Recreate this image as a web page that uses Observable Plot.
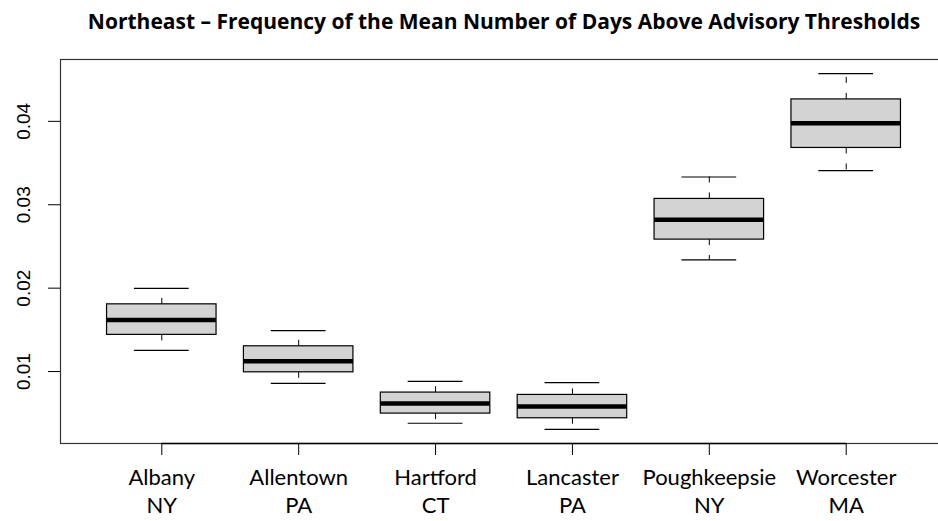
<!DOCTYPE html>
<html><head><meta charset="utf-8">
<script src="https://cdn.jsdelivr.net/npm/d3@7"></script>
<script src="https://cdn.jsdelivr.net/npm/@observablehq/plot@0.6"></script>
<style>body{margin:0;background:#fff;overflow:hidden} #chart svg{overflow:hidden}</style>
</head><body><div id="chart"></div>
<script>
const title = "Northeast \u2013 Frequency of the Mean Number of Days Above Advisory Thresholds";
const cities = ["Albany", "Allentown", "Hartford", "Lancaster", "Poughkeepsie", "Worcester"];
const states = ["NY", "PA", "CT", "PA", "NY", "MA"];
const whiskerLow  = [0.01255, 0.00859, 0.00380, 0.00308, 0.02338, 0.03409];
const q1          = [0.01440, 0.00991, 0.00496, 0.00440, 0.02582, 0.03681];
const median      = [0.01619, 0.01123, 0.00616, 0.00580, 0.02821, 0.03976];
const q3          = [0.01806, 0.01303, 0.00748, 0.00720, 0.03070, 0.04263];
const whiskerHigh = [0.01998, 0.01491, 0.00883, 0.00868, 0.03333, 0.04571];
const yTicks = [0.01, 0.02, 0.03, 0.04];
const yTickLabels = ["0.01", "0.02", "0.03", "0.04"];

const n = cities.length;
const rows = cities.map((c, k) => ({i: k + 1, label: c + "\n" + states[k], lo: whiskerLow[k], q1: q1[k], med: median[k], q3: q3[k], hi: whiskerHigh[k]}));
const lo = d3.min(whiskerLow), hi = d3.max(whiskerHigh), pad = (hi - lo) * 0.04;
const yMin = lo - pad;
const xIdx = d3.range(1, n + 1);

const chart = Plot.plot({
  width: 938, height: 521,
  marginLeft: 60, marginTop: 59, marginBottom: 78, marginRight: -9,
  style: {background: "white", fontFamily: "Lato, sans-serif"},
  x: {domain: [0.5 - 0.04 * n, n + 0.5 + 0.04 * n], label: null},
  y: {domain: [yMin, hi + pad], label: null},
  marks: [
    Plot.ruleX(rows, {x: "i", y1: "q3", y2: "hi", stroke: "black", strokeWidth: 1, strokeDasharray: "6,10"}),
    Plot.ruleX(rows, {x: "i", y1: "q1", y2: "lo", stroke: "black", strokeWidth: 1, strokeDasharray: "6,10"}),
    Plot.ruleY(rows, {y: "hi", x1: d => d.i - 0.2, x2: d => d.i + 0.2, stroke: "black", strokeWidth: 1.2}),
    Plot.ruleY(rows, {y: "lo", x1: d => d.i - 0.2, x2: d => d.i + 0.2, stroke: "black", strokeWidth: 1.2}),
    Plot.rect(rows, {x1: d => d.i - 0.4, x2: d => d.i + 0.4, y1: "q1", y2: "q3", fill: "#d3d3d3", stroke: "black", strokeWidth: 1.2}),
    Plot.ruleY(rows, {y: "med", x1: d => d.i - 0.4, x2: d => d.i + 0.4, stroke: "black", strokeWidth: 4.5}),
    Plot.frame({stroke: "#333", strokeWidth: 1.2}),
    Plot.ruleY([yMin], {x1: 1, x2: n, stroke: "black", strokeWidth: 1.5}),
    Plot.axisX({ticks: xIdx, tickSize: 12, tickFormat: () => "", stroke: "black"}),
    Plot.text(rows, {x: "i", text: "label", frameAnchor: "bottom", lineAnchor: "top", dy: 22, lineHeight: 1.27, fontSize: 22, fill: "black"}),
    Plot.axisY({ticks: yTicks, tickSize: 12, tickFormat: () => "", stroke: "black"}),
    Plot.text(yTicks, {y: d => d, text: (d, k) => yTickLabels[k], frameAnchor: "left", dx: -37, rotate: -90, textAnchor: "middle", lineAnchor: "middle", fontSize: 19, fontFamily: "Liberation Sans, Arial, sans-serif", fill: "black"}),
    Plot.text([title], {frameAnchor: "top", dy: -37, lineAnchor: "middle", fontSize: 21, fontWeight: "bold", fontFamily: "'Open Sans', sans-serif", fill: "black"})
  ]
});
document.getElementById("chart").appendChild(chart);
</script>
</body></html>
